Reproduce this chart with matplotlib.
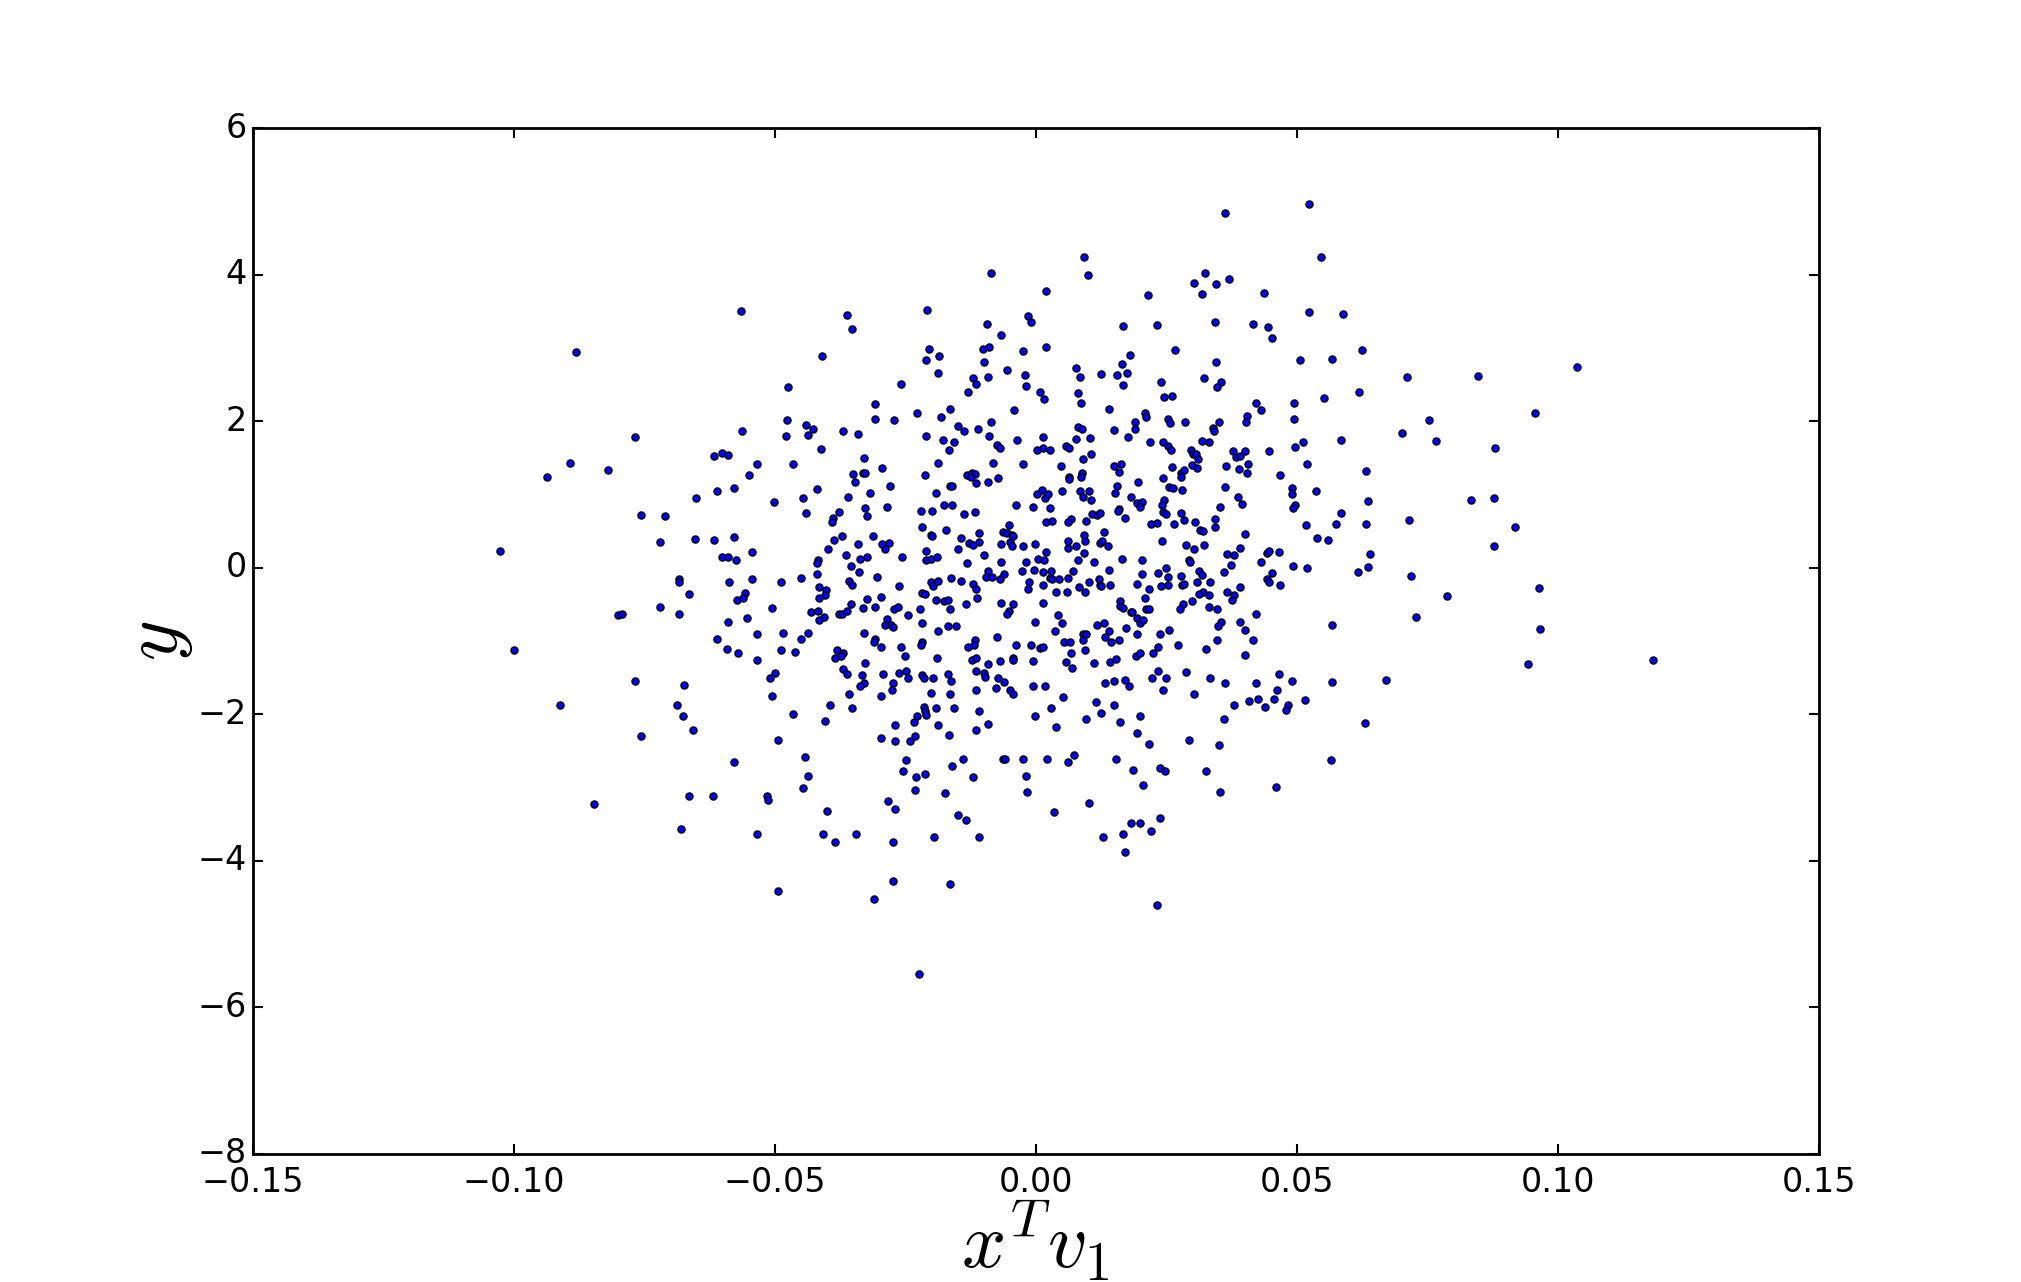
import matplotlib
matplotlib.use("Agg")
import matplotlib.pyplot as plt
import numpy as np

# (x^T v1, y) pairs, grouped by plot region
far_upper_left = [
    (-0.0565, 3.51), (-0.0880, 2.95), (-0.0767, 1.79), (-0.0563, 1.86),
    (-0.0617, 1.52), (-0.0601, 1.57), (-0.0590, 1.54),
]

upper_centre_left = [
    (-0.0085, 4.02), (0.0019, 3.78), (-0.0361, 3.45), (-0.0352, 3.26), (-0.0208, 3.52),
    (-0.0094, 3.33), (-0.0015, 3.44), (-0.0010, 3.36), (-0.0066, 3.18), (-0.0409, 2.89),
    (-0.0204, 2.99), (-0.0210, 2.84), (-0.0185, 2.89), (-0.0188, 2.66), (-0.0102, 2.99),
    (-0.0089, 3.01), (-0.0100, 2.81), (-0.0092, 2.61), (-0.0121, 2.59), (-0.0115, 2.51),
    (-0.0129, 2.40), (-0.0056, 2.70), (-0.0025, 2.96), (0.0019, 3.01), (-0.0020, 2.63),
    (-0.0018, 2.48), (0.0009, 2.40), (0.0015, 2.31), (-0.0258, 2.51), (-0.0307, 2.23),
    (-0.0307, 2.03), (-0.0271, 2.01), (-0.0227, 2.11), (-0.0165, 2.17), (-0.0181, 2.06),
    (-0.0148, 1.94), (-0.0137, 1.87), (-0.0110, 1.90), (-0.0041, 2.16), (-0.0085, 1.99),
    (-0.0089, 1.80), (-0.0075, 1.68), (-0.0069, 1.64), (-0.0035, 1.75), (0.0013, 1.79),
    (0.0002, 1.61), (0.0013, 1.64), (0.0027, 1.61), (0.0057, 1.66), (0.0063, 1.64),
    (-0.0211, 1.80), (-0.0177, 1.75), (-0.0156, 1.72), (-0.0167, 1.61), (-0.0440, 1.95),
    (-0.0426, 1.90), (-0.0436, 1.81), (-0.0369, 1.87), (-0.0340, 1.83), (-0.0411, 1.62),
    (-0.0329, 1.50), (-0.0474, 2.47), (-0.0477, 2.02), (-0.0479, 1.80),
]

upper_centre_right = [
    (0.0524, 4.97), (0.0363, 4.84), (0.0092, 4.24), (0.0100, 4.00), (0.0547, 4.24),
    (0.0324, 4.02), (0.0303, 3.89), (0.0346, 3.87), (0.0370, 3.94), (0.0319, 3.74),
    (0.0438, 3.75), (0.0215, 3.72), (0.0524, 3.49), (0.0589, 3.47), (0.0167, 3.30),
    (0.0232, 3.32), (0.0344, 3.36), (0.0417, 3.33), (0.0445, 3.29), (0.0453, 3.13),
    (0.0267, 2.97), (0.0180, 2.91), (0.0165, 2.78), (0.0175, 2.66), (0.0155, 2.63),
    (0.0125, 2.65), (0.0167, 2.50), (0.0346, 2.81), (0.0322, 2.59), (0.0355, 2.54),
    (0.0347, 2.47), (0.0240, 2.54), (0.0246, 2.33), (0.0261, 2.35), (0.0507, 2.84),
    (0.0568, 2.85), (0.0624, 2.97), (0.0620, 2.40), (0.0553, 2.32), (0.0495, 2.25),
    (0.0422, 2.25), (0.0432, 2.16), (0.0495, 2.03), (0.0078, 2.72), (0.0084, 2.61),
    (0.0081, 2.39), (0.0086, 2.25), (0.0140, 2.17), (0.0209, 2.11), (0.0211, 2.06),
    (0.0190, 1.99), (0.0190, 1.90), (0.0150, 1.88), (0.0177, 1.79), (0.0253, 2.03),
    (0.0257, 1.97), (0.0286, 1.99), (0.0351, 1.99), (0.0340, 1.91), (0.0342, 1.86),
    (0.0405, 2.07), (0.0403, 1.99), (0.0081, 1.92), (0.0088, 1.90), (0.0078, 1.76),
    (0.0104, 1.77), (0.0106, 1.55), (0.0090, 1.49), (0.0219, 1.71), (0.0244, 1.72),
    (0.0253, 1.66), (0.0259, 1.61), (0.0298, 1.61), (0.0301, 1.55), (0.0307, 1.55),
    (0.0311, 1.49), (0.0319, 1.73), (0.0332, 1.72), (0.0378, 1.60), (0.0384, 1.51),
    (0.0391, 1.53), (0.0401, 1.60), (0.0447, 1.60), (0.0497, 1.65), (0.0511, 1.71),
    (0.0584, 1.75),
]

far_upper_right = [
    (0.1036, 2.74), (0.0711, 2.61), (0.0848, 2.62), (0.0957, 2.11),
    (0.0754, 2.01), (0.0702, 1.84), (0.0767, 1.73), (0.0880, 1.64),
]

far_left = [
    (-0.0893, 1.43), (-0.0936, 1.24), (-0.0820, 1.34), (-0.0534, 1.42), (-0.0550, 1.27),
    (-0.0578, 1.09), (-0.0611, 1.05), (-0.0651, 0.95), (-0.0502, 0.90), (-0.0757, 0.72),
    (-0.0711, 0.71), (-0.1026, 0.23), (-0.0720, 0.35), (-0.0653, 0.39), (-0.0617, 0.38),
    (-0.0578, 0.42), (-0.0544, 0.22), (-0.0601, 0.15), (-0.0590, 0.15), (-0.0575, 0.10),
    (-0.0683, -0.16), (-0.0684, -0.19), (-0.0588, -0.19), (-0.0544, -0.15), (-0.0488, -0.20),
    (-0.0665, -0.36), (-0.0557, -0.34), (-0.0561, -0.41), (-0.0573, -0.44), (-0.0505, -0.55),
    (-0.0720, -0.53), (-0.0684, -0.63), (-0.0801, -0.64), (-0.0792, -0.63), (-0.0590, -0.74),
    (-0.0553, -0.68), (-0.0534, -0.91), (-0.0484, -0.89), (-0.0611, -0.97), (-0.0592, -1.11),
    (-0.0571, -1.16), (-0.0534, -1.26), (-0.0488, -1.12), (-0.0999, -1.12), (-0.0500, -1.43),
    (-0.0509, -1.50), (-0.0505, -1.75), (-0.0768, -1.54), (-0.0674, -1.60), (-0.0688, -1.87),
    (-0.0912, -1.88), (-0.0676, -2.02),
]

core_left = [
    (-0.0465, 1.42), (-0.0294, 1.36), (-0.0188, 1.43), (-0.0081, 1.43), (-0.0025, 1.42),
    (0.0048, 1.39), (-0.0350, 1.28), (-0.0331, 1.30), (-0.0327, 1.30), (-0.0346, 1.17),
    (-0.0213, 1.27), (-0.0131, 1.27), (-0.0123, 1.30), (-0.0117, 1.28), (-0.0125, 1.24),
    (-0.0114, 1.16), (-0.0091, 1.17), (-0.0073, 1.23), (0.0063, 1.24), (0.0063, 1.21),
    (-0.0419, 1.08), (-0.0446, 0.95), (-0.0359, 0.97), (-0.0317, 1.02), (-0.0279, 1.12),
    (-0.0165, 1.12), (-0.0160, 1.12), (-0.0192, 1.02), (0.0002, 1.01), (0.0011, 1.06),
    (0.0017, 0.95), (0.0023, 1.00), (0.0050, 1.05), (-0.0440, 0.75), (-0.0377, 0.76),
    (-0.0388, 0.68), (-0.0390, 0.63), (-0.0327, 0.82), (-0.0323, 0.71), (-0.0284, 0.83),
    (-0.0219, 0.78), (-0.0198, 0.78), (-0.0175, 0.86), (-0.0160, 0.85), (-0.0137, 0.74),
    (-0.0117, 0.76), (-0.0037, 0.86), (-0.0006, 0.83), (0.0027, 0.82), (0.0019, 0.63),
    (0.0032, 0.64), (0.0067, 0.67), (0.0061, 0.63), (-0.0217, 0.55), (-0.0171, 0.52),
    (-0.0200, 0.45), (-0.0198, 0.44), (-0.0108, 0.48), (-0.0144, 0.41), (-0.0127, 0.34),
    (-0.0121, 0.31), (-0.0108, 0.35), (-0.0062, 0.49), (-0.0052, 0.59), (-0.0056, 0.48),
    (-0.0046, 0.45), (-0.0043, 0.44), (-0.0067, 0.33), (-0.0050, 0.35), (-0.0046, 0.30),
    (-0.0025, 0.30), (-0.0002, 0.33), (0.0061, 0.37), (0.0061, 0.27), (-0.0386, 0.38),
    (-0.0371, 0.44), (-0.0340, 0.33), (-0.0311, 0.44), (-0.0294, 0.33), (-0.0281, 0.34),
    (-0.0288, 0.25), (-0.0398, 0.25), (-0.0363, 0.18), (-0.0336, 0.12), (-0.0323, 0.15),
    (-0.0256, 0.14), (-0.0211, 0.23), (-0.0211, 0.11), (-0.0200, 0.12), (-0.0190, 0.14),
    (-0.0148, 0.25), (-0.0131, 0.07), (-0.0100, 0.18), (-0.0067, 0.08), (-0.0019, 0.08),
    (0.0005, 0.12), (0.0015, 0.11), (0.0019, 0.22), (-0.0417, 0.11), (-0.0419, 0.07),
    (-0.0354, 0.03), (-0.0338, -0.06), (-0.0304, -0.12), (-0.0419, -0.08), (-0.0450, -0.14),
    (-0.0357, -0.18), (-0.0352, -0.23), (-0.0415, -0.26), (-0.0402, -0.30), (-0.0403, -0.37),
    (-0.0261, -0.25), (-0.0200, -0.20), (-0.0196, -0.25), (-0.0187, -0.18), (-0.0163, -0.14),
    (-0.0144, -0.18), (-0.0121, -0.22), (-0.0114, -0.29), (-0.0092, -0.04), (-0.0096, -0.12),
    (-0.0083, -0.12), (-0.0069, -0.15), (-0.0060, -0.08), (-0.0027, -0.04), (-0.0004, -0.03),
    (0.0013, -0.06), (0.0029, -0.04), (0.0027, -0.14), (0.0032, -0.16), (0.0044, -0.15),
    (0.0061, -0.14), (0.0071, -0.04), (-0.0012, -0.19), (-0.0014, -0.29), (0.0013, -0.23),
    (0.0038, -0.33), (0.0059, -0.33), (-0.0415, -0.41), (-0.0323, -0.42), (-0.0296, -0.40),
    (-0.0217, -0.34), (-0.0213, -0.36), (-0.0192, -0.44), (-0.0175, -0.45), (-0.0169, -0.44),
    (-0.0133, -0.49), (-0.0112, -0.41), (-0.0067, -0.48), (-0.0043, -0.49), (0.0013, -0.48),
    (-0.0354, -0.49), (-0.0331, -0.55), (-0.0307, -0.53), (-0.0271, -0.56), (-0.0263, -0.53),
    (-0.0221, -0.56), (-0.0165, -0.56), (-0.0430, -0.61), (-0.0417, -0.59), (-0.0405, -0.67),
    (-0.0415, -0.71), (-0.0377, -0.63), (-0.0371, -0.63), (-0.0361, -0.59), (-0.0244, -0.64),
    (-0.0284, -0.70), (-0.0288, -0.78), (-0.0277, -0.78), (-0.0273, -0.81), (-0.0052, -0.59),
    (-0.0056, -0.63), (0.0042, -0.64), (-0.0217, -0.76), (-0.0169, -0.79), (-0.0152, -0.79),
    (-0.0188, -0.86), (-0.0002, -0.74), (0.0050, -0.75), (0.0036, -0.86), (-0.0436, -0.89),
    (-0.0450, -0.97), (-0.0329, -0.89), (-0.0307, -0.97), (-0.0309, -1.02), (-0.0296, -1.08),
    (-0.0259, -1.08), (-0.0217, -1.01), (-0.0219, -1.06), (-0.0117, -0.99), (-0.0119, -1.06),
    (-0.0129, -1.08), (-0.0075, -0.94), (-0.0037, -1.05), (-0.0010, -1.06), (0.0009, -1.09),
    (0.0013, -1.08), (0.0055, -1.01), (0.0065, -1.02), (-0.0461, -1.15), (-0.0380, -1.12),
    (-0.0369, -1.17), (-0.0373, -1.20), (-0.0384, -1.23), (-0.0327, -1.30), (-0.0250, -1.21),
    (-0.0190, -1.23), (-0.0123, -1.26), (-0.0114, -1.23), (-0.0092, -1.31), (-0.0069, -1.27),
    (-0.0043, -1.23), (-0.0043, -1.26), (-0.0006, -1.27), (0.0067, -1.17), (0.0057, -1.28),
    (0.0069, -1.37), (-0.0369, -1.38), (-0.0361, -1.45), (-0.0292, -1.45), (-0.0261, -1.43),
    (-0.0248, -1.41), (-0.0244, -1.50), (-0.0217, -1.47), (-0.0215, -1.50), (-0.0196, -1.51),
    (-0.0169, -1.45), (-0.0163, -1.54), (-0.0114, -1.41), (-0.0100, -1.43), (-0.0098, -1.49),
    (-0.0073, -1.50), (-0.0060, -1.56), (-0.0332, -1.47), (-0.0329, -1.58), (-0.0336, -1.62),
    (-0.0273, -1.58), (-0.0275, -1.67), (-0.0114, -1.67), (-0.0077, -1.64), (-0.0050, -1.67),
    (-0.0044, -1.73), (-0.0006, -1.61), (0.0017, -1.61), (-0.0357, -1.72), (-0.0296, -1.75),
    (-0.0200, -1.71), (-0.0165, -1.73), (-0.0394, -1.88), (-0.0352, -1.92), (-0.0465, -1.99),
    (-0.0215, -1.90), (-0.0213, -1.95), (-0.0192, -1.92), (-0.0156, -1.92), (-0.0108, -1.95),
    (0.0030, -1.92), (0.0053, -1.76), (-0.0002, -2.02), (-0.0227, -2.02), (-0.0210, -2.01),
]

core_right = [
    (0.0150, 1.39), (0.0163, 1.42), (0.0159, 1.31), (0.0088, 1.30), (0.0086, 1.24),
    (0.0261, 1.38), (0.0278, 1.30), (0.0284, 1.34), (0.0278, 1.24), (0.0299, 1.40),
    (0.0309, 1.36), (0.0365, 1.39), (0.0390, 1.35), (0.0407, 1.42), (0.0405, 1.30),
    (0.0468, 1.26), (0.0520, 1.42), (0.0632, 1.32), (0.0196, 1.17), (0.0244, 1.23),
    (0.0155, 1.12), (0.0152, 1.02), (0.0084, 1.05), (0.0102, 1.05), (0.0090, 0.97),
    (0.0106, 0.93), (0.0255, 1.10), (0.0263, 1.09), (0.0280, 1.06), (0.0363, 1.10),
    (0.0388, 0.97), (0.0395, 0.87), (0.0490, 1.09), (0.0490, 1.01), (0.0536, 1.05),
    (0.0182, 0.97), (0.0194, 0.89), (0.0203, 0.90), (0.0200, 0.83), (0.0246, 0.93),
    (0.0242, 0.85), (0.0159, 0.80), (0.0157, 0.78), (0.0107, 0.74), (0.0117, 0.72),
    (0.0123, 0.75), (0.0096, 0.64), (0.0171, 0.68), (0.0244, 0.76), (0.0250, 0.74),
    (0.0278, 0.75), (0.0284, 0.65), (0.0305, 0.63), (0.0344, 0.67), (0.0344, 0.55),
    (0.0353, 0.83), (0.0497, 0.85), (0.0493, 0.82), (0.0584, 0.75), (0.0221, 0.60),
    (0.0232, 0.61), (0.0265, 0.60), (0.0518, 0.59), (0.0576, 0.60), (0.0632, 0.60),
    (0.0130, 0.49), (0.0092, 0.45), (0.0094, 0.37), (0.0123, 0.34), (0.0127, 0.37),
    (0.0138, 0.29), (0.0242, 0.37), (0.0288, 0.31), (0.0303, 0.26), (0.0322, 0.31),
    (0.0315, 0.52), (0.0321, 0.50), (0.0401, 0.46), (0.0538, 0.40), (0.0559, 0.38),
    (0.0392, 0.27), (0.0078, 0.30), (0.0092, 0.20), (0.0081, 0.11), (0.0111, 0.08),
    (0.0165, 0.12), (0.0203, 0.10), (0.0294, 0.10), (0.0296, 0.08), (0.0367, 0.19),
    (0.0380, 0.18), (0.0374, 0.04), (0.0361, -0.06), (0.0432, 0.08), (0.0442, 0.20),
    (0.0447, 0.23), (0.0465, 0.22), (0.0493, 0.03), (0.0520, -0.01), (0.0618, -0.06),
    (0.0140, -0.03), (0.0203, -0.08), (0.0234, -0.07), (0.0250, -0.01), (0.0253, -0.12),
    (0.0278, -0.11), (0.0313, -0.04), (0.0319, -0.10), (0.0453, -0.07), (0.0443, -0.15),
    (0.0447, -0.19), (0.0468, -0.23), (0.0082, -0.26), (0.0094, -0.33), (0.0102, -0.20),
    (0.0121, -0.16), (0.0123, -0.23), (0.0125, -0.25), (0.0142, -0.23), (0.0194, -0.22),
    (0.0217, -0.29), (0.0240, -0.25), (0.0253, -0.23), (0.0280, -0.23), (0.0284, -0.22),
    (0.0309, -0.19), (0.0334, -0.19), (0.0321, -0.33), (0.0313, -0.36), (0.0332, -0.37),
    (0.0367, -0.33), (0.0380, -0.37), (0.0376, -0.44), (0.0392, -0.26), (0.0161, -0.45),
    (0.0161, -0.52), (0.0167, -0.55), (0.0182, -0.60), (0.0184, -0.61), (0.0194, -0.68),
    (0.0200, -0.75), (0.0205, -0.72), (0.0209, -0.41), (0.0211, -0.57), (0.0217, -0.56),
    (0.0282, -0.49), (0.0276, -0.56), (0.0299, -0.46), (0.0332, -0.53), (0.0347, -0.57),
    (0.0422, -0.63), (0.0355, -0.74), (0.0349, -0.79), (0.0392, -0.74), (0.0401, -0.85),
    (0.0568, -0.78), (0.0117, -0.78), (0.0130, -0.75), (0.0140, -0.86), (0.0173, -0.82),
    (0.0090, -0.90), (0.0096, -0.90), (0.0194, -0.91), (0.0238, -0.91), (0.0255, -0.85),
    (0.0090, -0.99), (0.0132, -0.94), (0.0144, -1.02), (0.0159, -0.99), (0.0094, -1.12),
    (0.0111, -1.30), (0.0142, -1.28), (0.0154, -1.24), (0.0192, -1.20), (0.0200, -1.17),
    (0.0225, -1.16), (0.0234, -1.08), (0.0273, -1.06), (0.0326, -1.11), (0.0347, -0.99),
    (0.0417, -0.99), (0.0401, -1.19), (0.0234, -1.41), (0.0223, -1.50), (0.0250, -1.51),
    (0.0288, -1.42), (0.0132, -1.57), (0.0150, -1.54), (0.0171, -1.53), (0.0178, -1.62),
    (0.0244, -1.67), (0.0303, -1.72), (0.0334, -1.51), (0.0363, -1.57), (0.0422, -1.58),
    (0.0465, -1.45), (0.0463, -1.67), (0.0491, -1.54), (0.0568, -1.56), (0.0115, -1.83),
    (0.0150, -1.88), (0.0125, -1.98), (0.0200, -2.02), (0.0096, -2.06), (0.0361, -2.06),
    (0.0380, -1.87), (0.0409, -1.82), (0.0426, -1.79), (0.0440, -1.90), (0.0457, -1.79),
    (0.0484, -1.88), (0.0480, -1.94), (0.0516, -1.80),
]

far_right = [
    (0.0637, 0.91), (0.0640, 0.19), (0.0637, 0.01), (0.0834, 0.93), (0.0878, 0.95),
    (0.0715, 0.65), (0.0917, 0.55), (0.0877, 0.29), (0.0719, -0.11), (0.0963, -0.27),
    (0.0788, -0.38), (0.0729, -0.67), (0.0965, -0.83), (0.0942, -1.32), (0.1182, -1.26),
    (0.0671, -1.53),
]

lower_left = [
    (-0.0757, -2.29), (-0.0657, -2.22), (-0.0494, -2.35), (-0.0578, -2.65), (-0.0847, -3.22),
    (-0.0665, -3.12), (-0.0619, -3.12), (-0.0515, -3.12), (-0.0513, -3.17), (-0.0680, -3.56),
    (-0.0534, -3.64), (-0.0494, -4.41),
]

lower_centre_left = [
    (-0.0403, -2.09), (-0.0269, -2.14), (-0.0233, -2.10), (-0.0188, -2.14), (-0.0167, -2.28),
    (-0.0115, -2.22), (-0.0092, -2.13), (0.0038, -2.18), (-0.0296, -2.33), (-0.0269, -2.36),
    (-0.0240, -2.36), (-0.0231, -2.29), (-0.0442, -2.59), (-0.0436, -2.84), (-0.0446, -3.00),
    (-0.0248, -2.62), (-0.0254, -2.78), (-0.0229, -2.85), (-0.0213, -2.81), (-0.0231, -3.04),
    (-0.0160, -2.70), (-0.0140, -2.61), (-0.0121, -2.85), (-0.0173, -3.08), (-0.0062, -2.61),
    (-0.0058, -2.61), (-0.0025, -2.61), (0.0021, -2.61), (-0.0019, -2.84), (-0.0016, -3.06),
    (0.0061, -2.65), (0.0073, -2.55), (0.0034, -3.33), (-0.0283, -3.18), (-0.0269, -3.29),
    (-0.0400, -3.32), (-0.0407, -3.64), (-0.0384, -3.75), (-0.0344, -3.63), (-0.0273, -3.74),
    (-0.0194, -3.67), (-0.0148, -3.38), (-0.0133, -3.45), (-0.0108, -3.68), (-0.0273, -4.28),
    (-0.0165, -4.32), (-0.0309, -4.52), (-0.0223, -5.55),
]

lower_centre_right = [
    (0.0161, -2.11), (0.0630, -2.12), (0.0194, -2.25), (0.0217, -2.40), (0.0294, -2.35),
    (0.0351, -2.42), (0.0154, -2.61), (0.0186, -2.76), (0.0238, -2.74), (0.0248, -2.78),
    (0.0326, -2.78), (0.0205, -2.96), (0.0353, -3.06), (0.0461, -2.99), (0.0566, -2.63),
    (0.0102, -3.21), (0.0182, -3.48), (0.0200, -3.48), (0.0238, -3.42), (0.0221, -3.59),
    (0.0167, -3.63), (0.0129, -3.67), (0.0171, -3.88), (0.0232, -4.60),
]

regions = [far_upper_left, upper_centre_left, upper_centre_right, far_upper_right,
           far_left, core_left, core_right, far_right,
           lower_left, lower_centre_left, lower_centre_right]
points = np.array([p for r in regions for p in r])

plt.style.use("classic")
fig = plt.figure(figsize=(20.21, 12.82), dpi=100)
ax = fig.add_subplot(111)
ax.scatter(points[:, 0], points[:, 1], s=26, c="b", edgecolors="k", linewidths=1.0)

ax.set_xlim(-0.15, 0.15)
ax.set_ylim(-8, 6)
ax.set_xticks(np.arange(-0.15, 0.151, 0.05))
ax.set_yticks(np.arange(-8, 7, 2))
ax.tick_params(labelsize=24, width=1.5, length=7)
ax.tick_params(axis="x", pad=9)
for s in ax.spines.values():
    s.set_linewidth(2)

ax.set_xlabel(r"$x^Tv_1$", fontsize=56, labelpad=0)
ax.set_ylabel(r"$y$", fontsize=56, labelpad=2)

fig.savefig("out.png", dpi=100)
